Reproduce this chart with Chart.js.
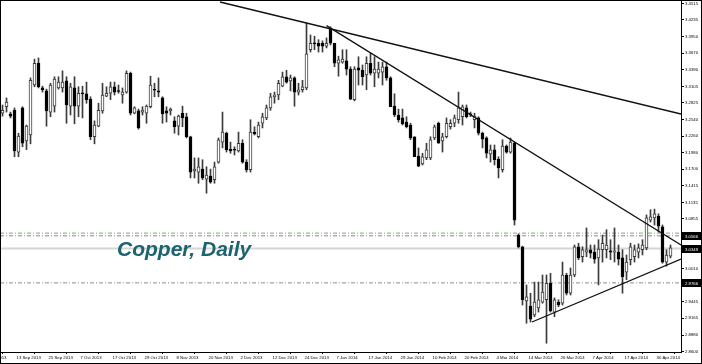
<!DOCTYPE html>
<html><head><meta charset="utf-8">
<script src="https://cdn.jsdelivr.net/npm/chart.js@4/dist/chart.umd.min.js"></script>
<style>html,body{margin:0;padding:0;background:#fff;overflow:hidden}canvas{display:block}</style>
</head><body>
<canvas id="c" width="702" height="364"></canvas>
<script>
// Copper daily OHLC (index 0 = 9 Sep 2013)
const opens = [
3.265,3.276,3.264,3.270,3.199,3.274,3.218,3.228,3.313,3.350,
3.308,3.303,3.267,3.277,3.308,3.308,3.320,3.277,3.308,3.277,
3.299,3.298,3.289,3.225,3.243,3.269,3.294,3.299,3.310,3.303,
3.296,3.301,3.333,3.265,3.269,3.267,3.265,3.276,3.305,3.303,
3.291,3.269,3.269,3.252,3.243,3.265,3.259,3.225,3.167,3.165,
3.170,3.153,3.158,3.152,3.182,3.216,3.231,3.204,3.203,3.201,
3.214,3.182,3.169,3.233,3.225,3.248,3.257,3.274,3.293,3.296,
3.311,3.327,3.320,3.325,3.301,3.305,3.308,3.373,3.384,3.384,
3.384,3.379,3.408,3.384,3.350,3.352,3.354,3.340,3.288,3.342,
3.338,3.330,3.350,3.333,3.333,3.335,3.344,3.325,3.277,3.262,
3.257,3.250,3.245,3.225,3.192,3.179,3.189,3.189,3.223,3.248,
3.218,3.225,3.242,3.248,3.254,3.259,3.274,3.264,3.254,3.257,
3.231,3.223,3.196,3.203,3.187,3.169,3.209,3.199,3.214,3.058,
3.038,2.946,2.937,2.922,2.934,2.944,2.948,2.976,2.927,2.944,
2.942,2.990,2.959,2.990,3.038,3.021,3.029,3.033,3.029,3.019,
3.033,3.033,3.031,3.029,3.029,3.019,2.995,3.016,3.021,3.029,
3.033,3.036,3.083,3.087,3.090,3.072,3.012,3.022];
const highs = [
3.279,3.291,3.267,3.274,3.231,3.276,3.245,3.325,3.357,3.359,
3.311,3.306,3.316,3.327,3.327,3.337,3.327,3.316,3.327,3.310,
3.311,3.318,3.293,3.252,3.282,3.316,3.310,3.318,3.318,3.313,
3.308,3.337,3.335,3.276,3.272,3.276,3.279,3.328,3.316,3.325,
3.293,3.276,3.274,3.259,3.262,3.277,3.265,3.226,3.189,3.189,
3.186,3.174,3.170,3.182,3.223,3.267,3.233,3.216,3.208,3.233,
3.220,3.186,3.254,3.242,3.250,3.265,3.279,3.299,3.301,3.321,
3.335,3.338,3.330,3.327,3.316,3.321,3.418,3.398,3.396,3.390,
3.388,3.393,3.412,3.384,3.362,3.373,3.373,3.344,3.344,3.361,
3.347,3.361,3.367,3.361,3.352,3.352,3.352,3.327,3.298,3.272,
3.272,3.259,3.248,3.225,3.206,3.197,3.214,3.225,3.245,3.250,
3.231,3.257,3.254,3.262,3.301,3.279,3.279,3.267,3.265,3.259,
3.233,3.225,3.211,3.211,3.191,3.220,3.211,3.223,3.216,3.060,
3.039,2.973,2.959,2.978,2.978,2.990,2.990,2.993,2.951,2.948,
3.012,2.993,3.002,3.041,3.044,3.038,3.070,3.041,3.041,3.050,
3.058,3.067,3.050,3.070,3.041,3.033,3.024,3.044,3.041,3.043,
3.050,3.092,3.101,3.102,3.094,3.075,3.033,3.041];
const lows = [
3.260,3.267,3.257,3.191,3.191,3.208,3.203,3.213,3.310,3.308,
3.301,3.243,3.259,3.267,3.306,3.301,3.248,3.262,3.247,3.259,
3.257,3.282,3.220,3.213,3.242,3.265,3.293,3.288,3.296,3.299,
3.282,3.299,3.262,3.264,3.238,3.262,3.248,3.274,3.293,3.293,
3.248,3.250,3.262,3.231,3.228,3.242,3.223,3.155,3.155,3.146,
3.152,3.129,3.146,3.146,3.180,3.206,3.199,3.197,3.194,3.199,
3.180,3.165,3.165,3.228,3.223,3.240,3.254,3.270,3.282,3.288,
3.310,3.316,3.303,3.277,3.296,3.301,3.305,3.369,3.373,3.369,
3.369,3.376,3.381,3.344,3.328,3.350,3.330,3.288,3.286,3.313,
3.313,3.305,3.330,3.310,3.325,3.313,3.321,3.276,3.259,3.250,
3.245,3.240,3.220,3.191,3.174,3.177,3.186,3.186,3.220,3.214,
3.199,3.223,3.238,3.242,3.248,3.245,3.257,3.259,3.240,3.228,
3.206,3.189,3.182,3.177,3.155,3.165,3.197,3.197,3.075,3.036,
2.939,2.908,2.910,2.919,2.927,2.942,2.874,2.927,2.919,2.936,
2.939,2.956,2.956,2.987,3.016,3.012,3.021,3.019,3.010,2.973,
3.012,3.019,3.016,3.012,3.007,2.959,2.982,3.007,3.012,3.019,
3.024,3.033,3.080,3.075,3.063,3.010,3.005,3.019];
const closes = [
3.270,3.284,3.260,3.201,3.226,3.214,3.243,3.321,3.350,3.310,
3.305,3.269,3.313,3.323,3.318,3.318,3.279,3.310,3.277,3.299,
3.298,3.288,3.225,3.245,3.270,3.296,3.299,3.310,3.301,3.302,
3.301,3.333,3.265,3.274,3.240,3.270,3.277,3.313,3.304,3.301,
3.264,3.265,3.272,3.242,3.260,3.257,3.225,3.165,3.170,3.174,
3.155,3.160,3.148,3.174,3.220,3.233,3.203,3.201,3.202,3.214,
3.182,3.169,3.233,3.230,3.245,3.259,3.274,3.293,3.296,3.316,
3.327,3.318,3.325,3.301,3.305,3.310,3.366,3.384,3.383,3.379,
3.379,3.384,3.384,3.350,3.356,3.357,3.340,3.289,3.340,3.338,
3.327,3.350,3.333,3.340,3.340,3.344,3.325,3.276,3.262,3.254,
3.247,3.242,3.223,3.191,3.175,3.191,3.203,3.220,3.242,3.214,
3.225,3.248,3.248,3.257,3.274,3.276,3.259,3.262,3.260,3.231,
3.221,3.197,3.203,3.186,3.172,3.209,3.199,3.216,3.083,3.038,
2.948,2.953,2.915,2.944,2.948,2.961,2.976,2.929,2.948,2.939,
2.990,2.959,2.990,3.038,3.019,3.033,3.033,3.027,3.017,3.034,
3.044,3.041,3.029,3.031,3.017,2.987,3.012,3.038,3.033,3.036,
3.041,3.087,3.089,3.094,3.073,3.012,3.024,3.036];

const xTickIdx = [-4,4,12,20,28,36,44,52,60,68,76,84,92,100,108,116,124,132,140,148,156,164];
const xTickLabels = ['3 Sep 2013','13 Sep 2013','25 Sep 2013','7 Oct 2013','17 Oct 2013','29 Oct 2013','8 Nov 2013',
  '20 Nov 2013','2 Dec 2013','12 Dec 2013','24 Dec 2013','7 Jan 2014','17 Jan 2014','29 Jan 2014','10 Feb 2014',
  '20 Feb 2014','4 Mar 2014','14 Mar 2014','26 Mar 2014','7 Apr 2014','17 Apr 2014','30 Apr 2014'];
const yTicks = [3.4515,3.4235,3.3950,3.3670,3.3390,3.3105,3.2825,3.2540,3.2260,3.1980,3.1700,3.1415,
  3.1135,3.0855,3.0570,3.0290,3.0010,2.9725,2.9445,2.9165,2.8880,2.8600];

// Trend lines: [startIndex, startPrice, endIndex, endPrice]
const trendUpper = [54.375, 3.4541, 169.625, 3.2637];
const trendMiddle = [81, 3.414, 169.625, 3.041];
const trendLower = [132.375, 2.9101, 169.625, 3.0172];

// Horizontal levels
const levelPrices = [3.0612, 3.0566, 3.0349, 2.9766];
const boxPrices = [3.0566, 3.0349, 2.9766];
const boxLabels = ['3.0566', '3.0349', '2.9766'];
const titleText = 'Copper, Daily';

const X_MIN = -0.625, X_MAX = 169.625, Y_MIN = 2.8591, Y_MAX = 3.4575;
const FONT = '"Liberation Sans", Arial, sans-serif';

const bodyData = opens.map((o, i) => ({x: i, y: [o, closes[i]]}));
const wickData = lows.map((l, i) => ({x: i, y: [l, highs[i]]}));
const bull = opens.map((o, i) => closes[i] >= o);

function seg(t) { return [{x: t[0], y: t[1]}, {x: t[2], y: t[3]}]; }
function lvl(p) { return [{x: X_MIN, y: p}, {x: X_MAX, y: p}]; }

const levelStyles = [
  {color: '#7fae7a', dash: [4, 2, 1, 2], width: 1},
  {color: '#8a8a8a', dash: [4, 2, 1, 2], width: 1},
  {color: '#d6d6d6', dash: [], width: 2},
  {color: '#8a8a8a', dash: [4, 2, 1, 2], width: 1}
];

const datasets = [];
[trendUpper, trendMiddle, trendLower].forEach(t => datasets.push({
  type: 'line', data: seg(t), borderColor: '#111', borderWidth: 1.3,
  pointRadius: 0, order: 0, tension: 0
}));
datasets.push({
  type: 'bar', data: bodyData, grouped: false, order: 1,
  barThickness: 3, minBarLength: 1, borderWidth: 1, borderSkipped: false,
  backgroundColor: bull.map(b => b ? '#ffffff' : '#000000'),
  borderColor: bull.map(b => b ? '#3c3c3c' : '#000000')
});
datasets.push({
  type: 'bar', data: wickData, grouped: false, order: 2,
  barThickness: 1, borderWidth: 0, backgroundColor: '#3c3c3c'
});
levelPrices.forEach((p, i) => datasets.push({
  type: 'line', data: lvl(p), borderColor: levelStyles[i].color, borderWidth: levelStyles[i].width,
  borderDash: levelStyles[i].dash, pointRadius: 0, order: 3
}));

const overlay = {
  id: 'overlay',
  afterDraw(chart) {
    const ctx = chart.ctx;
    const y = chart.scales.y;
    ctx.save();
    // title
    ctx.font = 'italic bold 21px ' + FONT;
    ctx.fillStyle = '#1b6470';
    ctx.textBaseline = 'alphabetic';
    ctx.textAlign = 'left';
    ctx.fillText(titleText, 117, 256);
    // price boxes
    ctx.font = '4.3px ' + FONT;
    ctx.textBaseline = 'middle';
    boxPrices.forEach((p, i) => {
      const py = Math.round(y.getPixelForValue(p));
      ctx.fillStyle = '#000';
      ctx.fillRect(682, py - 4, 19, 8);
      ctx.fillStyle = '#fff';
      ctx.fillText(boxLabels[i], 685, py + 0.5);
    });
    // frame
    ctx.strokeStyle = '#000';
    ctx.lineWidth = 1;
    ctx.strokeRect(0.5, 0.5, 701, 363);
    ctx.restore();
  }
};

new Chart(document.getElementById('c'), {
  type: 'bar',
  data: {datasets},
  options: {
    responsive: false, animation: false, devicePixelRatio: 1,
    layout: {padding: 0},
    plugins: {legend: {display: false}, tooltip: {enabled: false}},
    scales: {
      x: {
        type: 'linear', min: X_MIN, max: X_MAX, offset: false,
        afterBuildTicks: s => { s.ticks = xTickIdx.map(v => ({value: v})); },
        afterFit: s => { s.height = 12; s.paddingLeft = 0; s.paddingRight = 0; },
        ticks: {
          autoSkip: false, maxRotation: 0, minRotation: 0, align: 'start', labelOffset: -2,
          padding: 1, color: '#000', font: {size: 4.3, family: FONT},
          callback: (v, i) => xTickLabels[i]
        },
        grid: {drawOnChartArea: false, drawTicks: true, tickLength: 2, color: '#000'},
        border: {display: true, color: '#000', width: 1}
      },
      y: {
        type: 'linear', position: 'right', min: Y_MIN, max: Y_MAX,
        afterBuildTicks: s => { s.ticks = yTicks.map(v => ({value: v})); },
        afterFit: s => { s.width = 21; s.paddingTop = 0; s.paddingBottom = 0; },
        ticks: {
          autoSkip: false, padding: 1, color: '#000', font: {size: 4.3, family: FONT},
          callback: v => Number(v).toFixed(4)
        },
        grid: {drawOnChartArea: false, drawTicks: true, tickLength: 3, color: '#000'},
        border: {display: true, color: '#000', width: 1}
      }
    }
  },
  plugins: [overlay]
});
</script>
</body></html>
